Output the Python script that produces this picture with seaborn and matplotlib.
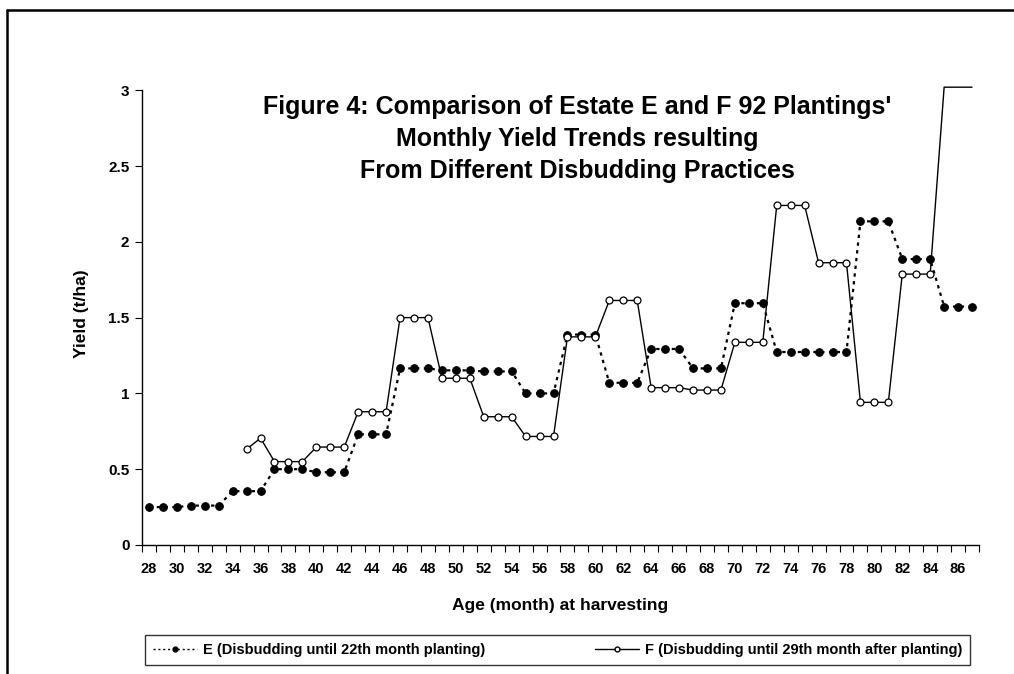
import numpy as np
import pandas as pd
import matplotlib
matplotlib.use("Agg")
import matplotlib.pyplot as plt
from matplotlib.lines import Line2D
import seaborn as sns

# Months of age at harvesting (category axis)
months = list(range(28, 88))

# E (disbudding until 22th month planting), t/ha
yield_e = [0.25, 0.25, 0.25, 0.26, 0.26, 0.26, 0.355, 0.355, 0.355,
           0.50, 0.50, 0.50, 0.48, 0.48, 0.48, 0.73, 0.73, 0.73,
           1.165, 1.165, 1.165, 1.152, 1.152, 1.152, 1.145, 1.145, 1.145,
           1.00, 1.00, 1.00, 1.388, 1.388, 1.388, 1.07, 1.07, 1.07,
           1.293, 1.293, 1.293, 1.165, 1.165, 1.165, 1.595, 1.595, 1.595,
           1.273, 1.273, 1.273, 1.273, 1.273, 1.273, 2.135, 2.135, 2.135,
           1.886, 1.886, 1.886, 1.573, 1.573, 1.573]

# F (disbudding until 29th month after planting), t/ha; no data before month 35
yield_f = [np.nan] * 7 + [0.632, 0.705,
           0.55, 0.55, 0.55, 0.646, 0.646, 0.646, 0.879, 0.879, 0.879,
           1.50, 1.50, 1.50, 1.10, 1.10, 1.10, 0.846, 0.846, 0.846,
           0.716, 0.716, 0.716, 1.373, 1.373, 1.373, 1.613, 1.613, 1.613,
           1.038, 1.038, 1.038, 1.022, 1.022, 1.022, 1.337, 1.337, 1.337,
           2.24, 2.24, 2.24, 1.862, 1.862, 1.862, 0.941, 0.941, 0.941,
           1.787, 1.787, 1.787, 3.02, 3.02, 3.02]

label_e = "E (Disbudding until 22th month planting)"
label_f = "F (Disbudding until 29th month after planting)"

df = pd.DataFrame({"month": months, "E": yield_e, "F": yield_f})

sns.set_style("white")
plt.rcParams["font.family"] = ["Liberation Sans", "DejaVu Sans"]
plt.rcParams["font.weight"] = "bold"
for key in ["text.color", "axes.labelcolor", "xtick.color", "ytick.color"]:
    plt.rcParams[key] = "black"

fig = plt.figure(figsize=(10.14, 6.74), dpi=100)
ax = fig.add_axes([0.140, 0.1914, 0.8255, 0.686])

sns.lineplot(data=df, x="month", y="E", ax=ax, color="black",
             linestyle=(0, (1.5, 2.0)), linewidth=1.6, marker="o",
             markersize=5.5, markerfacecolor="black", markeredgecolor="black",
             label=label_e, clip_on=False)
sns.lineplot(data=df.dropna(), x="month", y="F", ax=ax, color="black",
             linestyle="-", linewidth=1.0, marker="o", markersize=5,
             markerfacecolor="white", markeredgecolor="black",
             markeredgewidth=0.9, label=label_f, clip_on=False)

# values above the axis top are drawn without markers
line_f = ax.lines[-1]
n_f = len(line_f.get_xdata())
line_f.set_markevery(list(range(n_f - 3)))

ax.set_xlim(27.5, 87.5)
ax.set_ylim(0, 3.05)
ax.set_yticks([0, 0.5, 1, 1.5, 2, 2.5, 3])
ax.set_yticklabels(["0", "0.5", "1", "1.5", "2", "2.5", "3"],
                   fontsize=11, fontweight="bold")
ax.set_xticks(range(28, 88, 2))
ax.set_xticklabels([str(m) for m in range(28, 88, 2)],
                   fontsize=10.5, fontweight="bold")
ax.set_xticks(np.arange(27.5, 88, 1), minor=True)

for side in ["top", "right"]:
    ax.spines[side].set_visible(False)
ax.spines["left"].set_bounds(0, 3)
for side in ["left", "bottom"]:
    ax.spines[side].set_color("black")
    ax.spines[side].set_linewidth(1.0)

ax.tick_params(axis="x", which="major", length=0, pad=12)
ax.tick_params(axis="x", which="minor", bottom=True, length=5,
               width=0.8, color="black", direction="out")
ax.tick_params(axis="y", which="major", left=True, length=5,
               width=0.8, color="black", direction="out", pad=4)

ax.set_xlabel("Age (month) at harvesting", fontsize=12.5,
              fontweight="bold", labelpad=16)
ax.set_ylabel("Yield (t/ha)", fontsize=12.5, fontweight="bold", labelpad=14)

ax.text(0.52, 0.878,
        "Figure 4: Comparison of Estate E and F 92 Plantings'\n"
        "Monthly Yield Trends resulting\n"
        "From Different Disbudding Practices",
        transform=ax.transAxes, ha="center", va="center", fontsize=18,
        fontweight="bold", linespacing=1.42)

handles, labels = ax.get_legend_handles_labels()
ax.get_legend().remove()
small = [Line2D([], [], color="black", linestyle=(0, (1.5, 2.0)), linewidth=1.0,
                marker="o", markersize=3.5, markerfacecolor="black"),
         Line2D([], [], color="black", linestyle="-", linewidth=1.0,
                marker="o", markersize=3.5, markerfacecolor="white")]
leg = fig.legend(small, labels, ncol=2, loc="lower left",
                 bbox_to_anchor=(145 / 1014, 1 - 665 / 674, 825 / 1014, 33 / 674),
                 mode="expand", frameon=True, fancybox=False,
                 edgecolor="black", handlelength=3.0, handletextpad=0.4,
                 prop={"size": 10.5, "weight": "bold"}, borderpad=0.55,
                 borderaxespad=0)
leg.get_frame().set_linewidth(1.0)

# outer chart border (top and left edges)
fig.add_artist(Line2D([7 / 1014, 7 / 1014], [0, 1 - 10 / 674],
                      transform=fig.transFigure, color="black", linewidth=1.8))
fig.add_artist(Line2D([7 / 1014, 1], [1 - 10 / 674, 1 - 10 / 674],
                      transform=fig.transFigure, color="black", linewidth=1.8))

fig.savefig("out.png", dpi=100, facecolor="white")
